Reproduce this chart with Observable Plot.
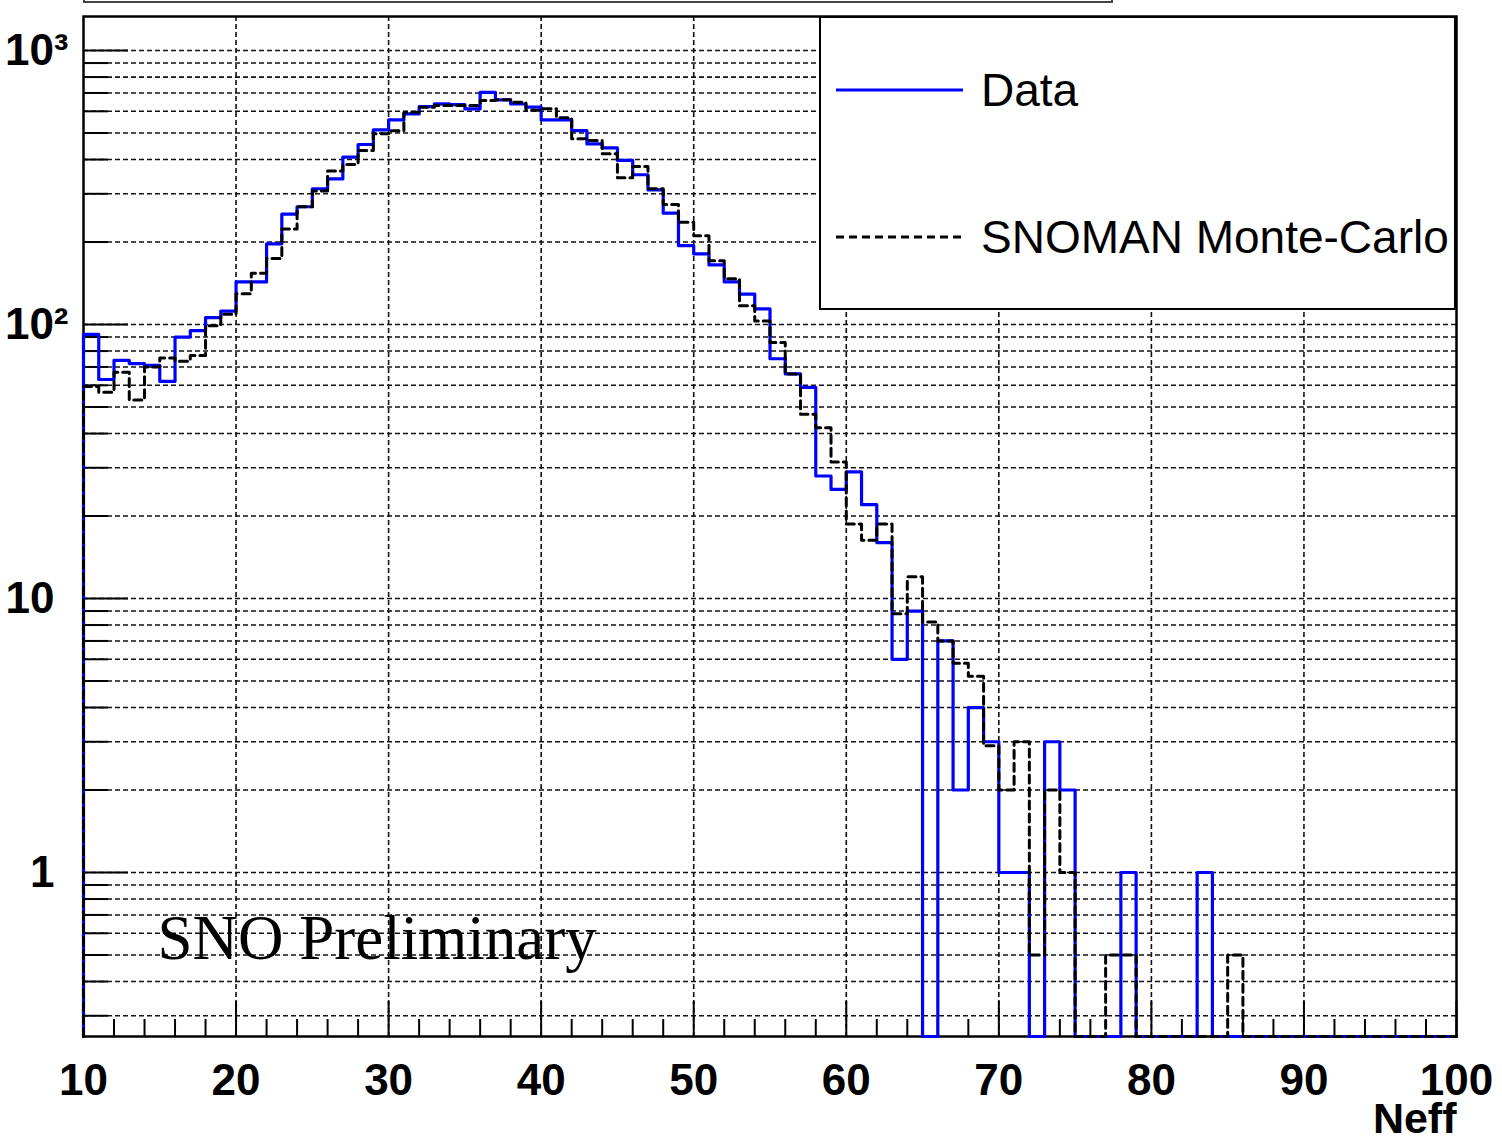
<!DOCTYPE html>
<html>
<head>
<meta charset="utf-8">
<script src="https://cdn.jsdelivr.net/npm/d3@7"></script>
<script src="https://cdn.jsdelivr.net/npm/@observablehq/plot@0.6"></script>
<style>
  html, body { margin: 0; padding: 0; background: #fff; }
  #wrap { position: relative; width: 1502px; height: 1140px; overflow: hidden; font-family: "Liberation Sans", Arial, Helvetica, sans-serif; }
  #titlebox { position: absolute; left: 83px; top: -12px; width: 1030px; height: 15px; box-sizing: border-box; border: 2px solid #444; background: #fff; }
  #legend { position: absolute; left: 819px; top: 16px; width: 637px; height: 294px; box-sizing: border-box; border: 2px solid #000; background: #fff; }
  #legend svg { position: absolute; left: -2px; top: -2px; overflow: visible; }
</style>
</head>
<body>
<div id="wrap">
  <div id="chart"></div>
  <div id="titlebox"></div>
  <div id="legend"></div>
</div>
<script>
// Neff histograms, 1-unit bins from 10 to 100 (lower bin edges)
const neffBins = d3.range(10, 100);

// Measured event counts per bin
const dataCounts = [
  92, 63, 74, 72, 71, 62, 90, 95, 106, 112,          // 10-19
  143, 143, 197, 253, 269, 313, 340, 408, 454, 513,  // 20-29
  558, 587, 624, 639, 635, 612, 704, 661, 638, 621,  // 30-39
  558, 558, 510, 456, 441, 397, 352, 310, 255, 194,  // 40-49
  181, 165, 143, 129, 114, 75, 66, 59, 28, 25,       // 50-59
  29, 22, 16, 6, 9, 0, 7, 2, 4, 3,                   // 60-69
  1, 1, 0, 3, 2, 0, 0, 0, 1, 0,                      // 70-79
  0, 0, 0, 1, 0, 0, 0, 0, 0, 0,                      // 80-89
  0, 0, 0, 0, 0, 0, 0, 0, 0, 0                       // 90-99
];

// SNOMAN Monte-Carlo prediction per bin (normalised)
const mcCounts = [
  59.4, 56.6, 67, 53, 70, 75.5, 73.5, 77, 99, 109,    // 10-19
  129.5, 154, 174, 223, 269, 307, 363, 384, 432, 497, // 20-29
  510, 595, 621, 630, 630, 630, 657, 661, 648, 605,   // 30-39
  613, 568, 476, 469, 420, 343, 377, 313, 274, 236,   // 40-49
  211, 171, 147, 117, 103, 86, 66, 47, 42, 31.5,      // 50-59
  18.7, 16.3, 18.7, 8.8, 12, 8.2, 7, 5.8, 5.2, 2.9,   // 60-69
  2, 3, 0.5, 2, 1, 0, 0, 0.5, 0.5, 0,                 // 70-79
  0, 0, 0, 0, 0, 0.5, 0, 0, 0, 0,                     // 80-89
  0, 0, 0, 0, 0, 0, 0, 0, 0, 0                        // 90-99
];

// Axis ticks and labels
const xMajorTicks = [10, 20, 30, 40, 50, 60, 70, 80, 90, 100];
const xMinorTicks = d3.range(12, 100, 2).filter(v => v % 10 !== 0);
const yMajorTicks = [1, 10, 100, 1000];
const yPlainLabels = [{v: 1, t: "1"}, {v: 10, t: "10"}];
const yPowerLabels = [{v: 100, t: "10²"}, {v: 1000, t: "10³"}];

const yFloor = 0.252, yCeil = 1331;
const yMinorTicks = [];
for (const k of [-1, 0, 1, 2]) for (let m = 2; m <= 9; m++) {
  const v = m * 10 ** k;
  if (v >= yFloor && v <= yCeil) yMinorTicks.push(+v.toPrecision(3));
}
const yGrid = [...yMinorTicks, ...yMajorTicks];

// Build an outlined step histogram; empty bins sit on the lower frame edge
function stepOutline(counts) {
  const pts = [{x: neffBins[0], y: yFloor}];
  counts.forEach((c, i) => pts.push({x: neffBins[i], y: c > 0 ? c : yFloor}));
  const last = counts[counts.length - 1];
  pts.push({x: 100, y: last > 0 ? last : yFloor});
  pts.push({x: 100, y: yFloor});
  return pts;
}

const W = 1502, H = 1140, mL = 83, mR = 46, mT = 16, mB = 104;
const frameW = W - mL - mR, frameH = H - mT - mB;
const sans = "Liberation Sans, Arial, Helvetica, sans-serif";

const chart = Plot.plot({
  width: W, height: H,
  marginLeft: mL, marginRight: mR, marginTop: mT, marginBottom: mB,
  style: {background: "#fff", overflow: "visible"},
  x: {domain: [10, 100], axis: null},
  y: {type: "log", domain: [yFloor, yCeil], axis: null},
  marks: [
    // dashed grid
    Plot.ruleY(yGrid, {y: d => d, stroke: "#111", strokeWidth: 1.6, strokeDasharray: "5,3"}),
    Plot.ruleX(xMajorTicks.filter(v => v > 10 && v < 100), {x: d => d, stroke: "#111", strokeWidth: 1.6, strokeDasharray: "5,3"}),
    // inward tick marks
    Plot.tickX(xMajorTicks, {x: d => d, insetTop: frameH - 35, stroke: "#000", strokeWidth: 2}),
    Plot.tickX(xMinorTicks, {x: d => d, insetTop: frameH - 17, stroke: "#000", strokeWidth: 2}),
    Plot.tickY(yMajorTicks, {y: d => d, insetRight: frameW - 45, stroke: "#000", strokeWidth: 2}),
    Plot.tickY(yMinorTicks, {y: d => d, insetRight: frameW - 25, stroke: "#000", strokeWidth: 2}),
    Plot.frame({stroke: "#000", strokeWidth: 2.5}),
    // histograms
    Plot.line(stepOutline(dataCounts), {x: "x", y: "y", curve: "step-after", stroke: "#0000ff", strokeWidth: 3.2}),
    Plot.line(stepOutline(mcCounts), {x: "x", y: "y", curve: "step-after", stroke: "#000", strokeWidth: 3, strokeDasharray: "8,5"}),
    // axis labels
    Plot.text(xMajorTicks, {x: d => d, text: d => String(d), frameAnchor: "bottom", lineAnchor: "bottom", dy: 58,
      fontSize: 44, fontWeight: "bold", fontFamily: sans, fill: "#000"}),
    Plot.text(yPlainLabels, {y: "v", text: "t", frameAnchor: "left", textAnchor: "end", dx: -29,
      fontSize: 44, fontWeight: "bold", fontFamily: sans, fill: "#000"}),
    Plot.text(yPowerLabels, {y: "v", text: "t", frameAnchor: "left", textAnchor: "end", dx: -15,
      fontSize: 44, fontWeight: "bold", fontFamily: sans, fill: "#000"}),
    Plot.text(["Neff"], {frameAnchor: "bottom-right", textAnchor: "end", lineAnchor: "bottom", dy: 96,
      fontSize: 43, fontWeight: "bold", fontFamily: sans, fill: "#000"}),
    Plot.text(["SNO Preliminary"], {frameAnchor: "bottom-left", textAnchor: "start", lineAnchor: "bottom", dx: 74, dy: -78,
      fontSize: 63, fontFamily: "Liberation Serif, Times New Roman, serif", fill: "#000"})
  ]
});
document.getElementById("chart").appendChild(chart);

// Legend box
const legend = d3.select("#legend").append("svg").attr("width", 637).attr("height", 294);
const entries = [
  {label: "Data", y: 74, stroke: "#0000ff", dash: null},
  {label: "SNOMAN Monte-Carlo", y: 221, stroke: "#000", dash: "8,5"}
];
for (const e of entries) {
  legend.append("line").attr("x1", 17).attr("x2", 144).attr("y1", e.y).attr("y2", e.y)
    .attr("stroke", e.stroke).attr("stroke-width", 3).attr("stroke-dasharray", e.dash);
  legend.append("text").attr("x", 162).attr("y", e.y + 16)
    .attr("font-family", sans).attr("font-size", 46).attr("fill", "#000").text(e.label);
}
</script>
</body>
</html>
